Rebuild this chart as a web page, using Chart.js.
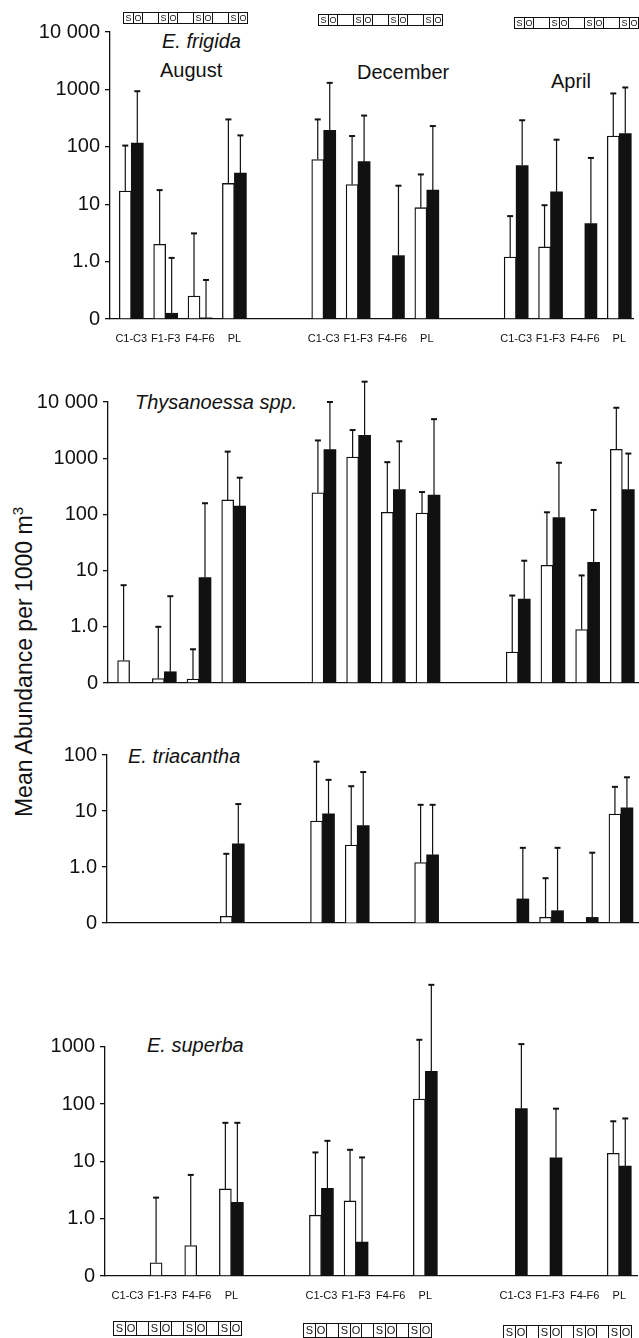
<!DOCTYPE html>
<html>
<head>
<meta charset="utf-8">
<script src="https://cdn.jsdelivr.net/npm/chart.js@4.4.1/dist/chart.umd.min.js"></script>
<style>
  body { margin: 0; background: #fff; }
  #page { position: relative; width: 639px; height: 1338px; overflow: hidden;
          font-family: "Liberation Sans", Arial, sans-serif; color: #111; }
  canvas { position: absolute; left: 0; }
  .txt { position: absolute; white-space: nowrap; font-size: 20px; line-height: 20px; }
  .it { font-style: italic; }
  .ytitle { position: absolute; white-space: nowrap; font-size: 23px; line-height: 23px;
            transform: translate(-50%, -50%) rotate(-90deg); }
  .ytitle sup { font-size: 15px; line-height: 0; }
  .strip { position: absolute; display: flex; border-top: 1px solid #111; border-bottom: 1px solid #111; }
  .strip span { display: block; box-sizing: border-box; text-align: center; }
  .strip .c { border-left: 1px solid #111; }
  .strip .c.o { border-right: 1px solid #111; }
</style>
</head>
<body>
<div id="page">
  <div class="ytitle" style="left:24px; top:662px">Mean Abundance per 1000 m<sup>3</sup></div>
  <div class="txt it" style="left:162px; top:31px">E. frigida</div>
  <div class="txt" style="left:160px; top:60px">August</div>
  <div class="txt" style="left:357px; top:62px">December</div>
  <div class="txt" style="left:551px; top:71px">April</div>
  <div class="txt it" style="left:135px; top:392px">Thysanoessa spp.</div>
  <div class="txt it" style="left:128px; top:746px">E. triacantha</div>
  <div class="txt it" style="left:147px; top:1035px">E. superba</div>
</div>
<script>
// stage and month order: Aug C1-C3..PL, Dec C1-C3..PL, Apr C1-C3..PL
const STAGES = ["C1-C3", "F1-F3", "F4-F6", "PL"];
const MONTHS = ["August", "December", "April"];
const Y_TICKS = ["0", "1.0", "10", "100", "1000", "10 000"];

// mean abundance per 1000 m3 (S = open bars, O = filled bars), and upper error
const frigidaS    = [17, 2.0, 0.4, 23,    60, 22, 0, 8.7,     1.2, 1.8, 0, 154];
const frigidaSErr = [105, 17.6, 3.1, 300, 300, 154, 0, 33,    6.2, 9.6, 0, 850];
const frigidaO    = [116, 0.1, 0.02, 35,  194, 55, 1.27, 17.6, 47, 16.4, 4.6, 170];
const frigidaOErr = [930, 1.16, 0.68, 158, 1300, 350, 21, 230, 290, 133, 64, 1080];

const thysS    = [0.4, 0.08, 0.07, 181,  243, 1050, 109, 106,   0.55, 12.4, 0.95, 1440];
const thysSErr = [5.5, 1.0, 0.6, 1310,   2070, 3170, 850, 250,  3.6, 109, 8.2, 7900];
const thysO    = [0, 0.2, 7.5, 140,      1420, 2540, 277, 220,  3.1, 88, 14, 277];
const thysOErr = [0, 3.5, 158, 450,      10000, 23000, 2000, 4950, 15, 830, 120, 1210];

const triS    = [0, 0, 0, 0.12,   6.6, 2.47, 0, 1.2,    0, 0.1, 0, 8.8];
const triSErr = [0, 0, 0, 1.72,   76, 27.7, 0, 12.9,    0, 0.8, 0, 27];
const triO    = [0, 0, 0, 2.58,   8.9, 5.5, 0, 1.65,    0.43, 0.22, 0.1, 11.4];
const triOErr = [0, 0, 0, 13.3,   36, 49.6, 0, 12.9,    2.2, 2.2, 1.8, 40];

const superbaS    = [0, 0.23, 0.53, 3.3,  1.15, 2.04, 0, 122,   0, 0, 0, 13.8];
const superbaSErr = [0, 2.33, 5.8, 47,    14.3, 15.9, 0, 1320,  0, 0, 0, 50];
const superbaO    = [0, 0, 0, 1.93,       3.4, 0.59, 0, 370,    83, 11.5, 0, 8.3];
const superbaOErr = [0, 0, 0, 47,         22.8, 11.7, 0, 12000, 1110, 83, 0, 56];

const FONT = "'Liberation Sans', Arial, sans-serif";
const PITCH = 34.7;      // px between stage slots
const STRIDE = 5.6;      // slots between month groups

// axis: linear below 1, one decade per unit above
function scaleVal(v) { return v <= 1 ? v : 1 + Math.log10(v); }
function xPos(k) { return Math.floor(k / 4) * STRIDE + (k % 4); }

const panels = [
  { top: 0,   height: 360, axisX: 110, firstCenter: 131.5, topTickY: 32,    zeroY: 319,   decades: 5, labels: true,
    s: frigidaS, sErr: frigidaSErr, o: frigidaO, oErr: frigidaOErr },
  { top: 360, height: 340, axisX: 108, firstCenter: 129.6, topTickY: 402,   zeroY: 687.3, decades: 5, labels: false,
    s: thysS, sErr: thysSErr, o: thysO, oErr: thysOErr },
  { top: 700, height: 240, axisX: 107, firstCenter: 128.2, topTickY: 755,   zeroY: 926.7, decades: 3, labels: false,
    s: triS, sErr: triSErr, o: triO, oErr: triOErr },
  { top: 940, height: 398, axisX: 105, firstCenter: 127.5, topTickY: 1046.7, zeroY: 1276, decades: 4, labels: true,
    s: superbaS, sErr: superbaSErr, o: superbaO, oErr: superbaOErr }
];

const errorBars = {
  id: "errorBars",
  afterDatasetsDraw(chart) {
    const ctx = chart.ctx, y = chart.scales.y;
    ctx.save();
    ctx.strokeStyle = "#111";
    chart.data.datasets.forEach((ds, i) => {
      chart.getDatasetMeta(i).data.forEach((bar, k) => {
        const e = ds.errors[k];
        if (!e || ds.data[k].y == null) return;
        const top = y.getPixelForValue(scaleVal(e));
        ctx.lineWidth = 1.2;
        ctx.beginPath(); ctx.moveTo(bar.x, bar.y); ctx.lineTo(bar.x, top); ctx.stroke();
        ctx.lineWidth = 2;
        ctx.beginPath(); ctx.moveTo(bar.x - 3, top); ctx.lineTo(bar.x + 3, top); ctx.stroke();
      });
    });
    ctx.restore();
  }
};

function series(vals, errs, fill) {
  return {
    data: vals.map((v, k) => ({ x: xPos(k), y: v > 0 ? scaleVal(v) : null })),
    errors: errs,
    backgroundColor: fill,
    borderColor: "#111",
    borderWidth: fill === "#fff" ? 1.3 : 0,
    barThickness: 12
  };
}

const page = document.getElementById("page");
const slots = STAGES.length * MONTHS.length;

panels.forEach(p => {
  const cv = document.createElement("canvas");
  cv.width = 639;
  cv.height = p.height;
  cv.style.top = p.top + "px";
  page.appendChild(cv);

  new Chart(cv, {
    type: "bar",
    data: { datasets: [series(p.s, p.sErr, "#fff"), series(p.o, p.oErr, "#111")] },
    options: {
      responsive: false,
      animation: false,
      layout: { padding: { top: p.topTickY - p.top, left: 0, right: 0, bottom: 0 } },
      plugins: { legend: { display: false }, tooltip: { enabled: false } },
      scales: {
        x: {
          type: "linear",
          offset: false,
          min: (p.axisX - p.firstCenter) / PITCH,
          max: (639 - p.firstCenter) / PITCH,
          grid: { display: false, drawTicks: false },
          border: { display: true, color: "#111", width: 1.3 },
          afterBuildTicks: s => { s.ticks = Array.from({ length: slots }, (_, k) => ({ value: xPos(k) })); },
          afterFit: s => { s.height = p.top + p.height - p.zeroY; },
          ticks: {
            display: p.labels, autoSkip: false, maxRotation: 0, padding: 13,
            color: "#111", font: { family: FONT, size: 11 },
            callback: (v, i) => STAGES[i % 4]
          }
        },
        y: {
          min: 0,
          max: p.decades,
          grid: { drawOnChartArea: false, drawTicks: true, tickLength: 5, color: "#111", lineWidth: 1.3 },
          border: { display: true, color: "#111", width: 1.3 },
          afterBuildTicks: s => { s.ticks = Array.from({ length: p.decades + 1 }, (_, k) => ({ value: k })); },
          afterFit: s => { s.width = p.axisX; },
          ticks: { padding: 5, color: "#111", font: { family: FONT, size: 20 }, callback: v => Y_TICKS[v] }
        }
      }
    },
    plugins: [errorBars]
  });
});

// S / O key strips above and below the month groups
function strip(left, top, cell, gap, h, fs) {
  const d = document.createElement("div");
  d.className = "strip";
  d.style.left = left + "px";
  d.style.top = top + "px";
  STAGES.forEach((st, i) => {
    ["S", "O"].forEach(letter => {
      const c = document.createElement("span");
      c.className = "c" + (letter === "O" ? " o" : "");
      c.textContent = letter;
      c.style.width = cell + "px";
      c.style.height = h + "px";
      c.style.fontSize = fs + "px";
      c.style.lineHeight = h + "px";
      d.appendChild(c);
    });
    if (i < STAGES.length - 1) {
      const g = document.createElement("span");
      g.style.width = gap + "px";
      d.appendChild(g);
    }
  });
  page.appendChild(d);
}
strip(123, 12, 10, 15, 10, 9);
strip(318, 14, 10, 15, 10, 9);
strip(514, 17, 10, 15, 10, 9);
strip(113, 1321, 12, 11, 13, 11);
strip(303, 1323, 12, 11, 13, 11);
strip(503, 1325, 12, 11, 13, 11);
</script>
</body>
</html>
